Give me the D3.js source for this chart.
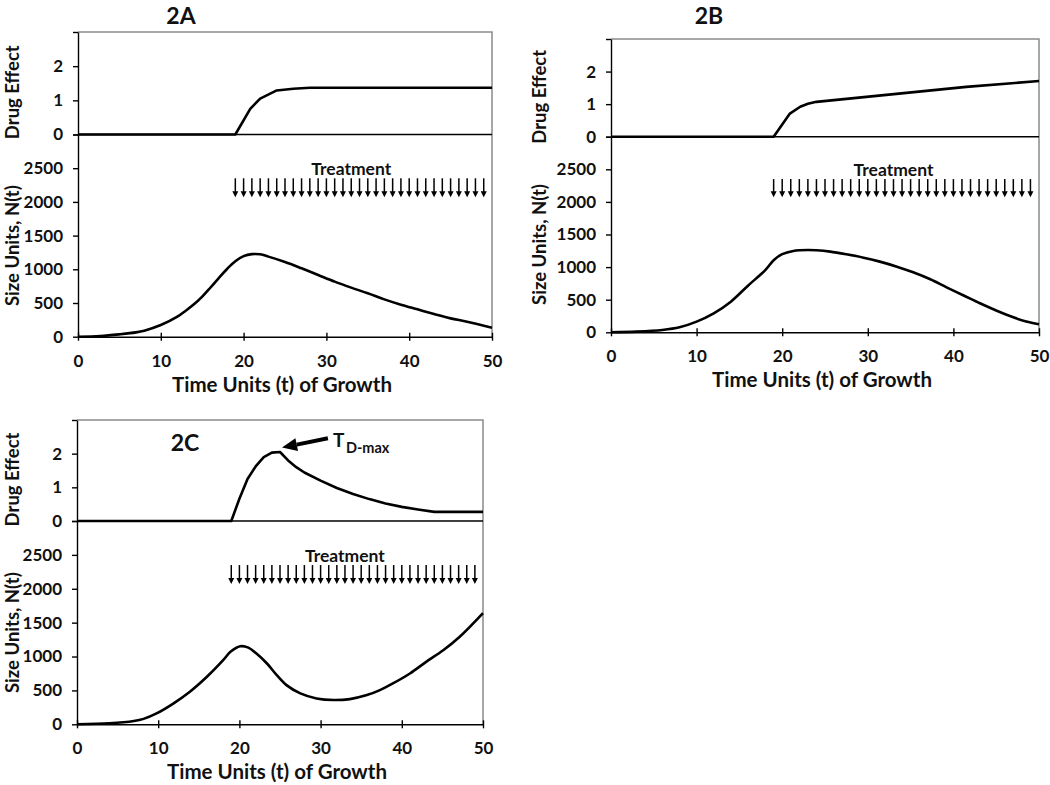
<!DOCTYPE html>
<html><head><meta charset="utf-8">
<script src="https://cdn.jsdelivr.net/npm/d3@7"></script>
<style>
body{margin:0;background:#fff}
svg text{font-family:Lato,'Open Sans',sans-serif;font-weight:700;fill:#111}
</style>
</head><body>
<svg id="chart" width="1050" height="785"></svg>
<script>
// ---------- data ----------
const timeTicks = [0, 10, 20, 30, 40, 50];
const drugTicks = [0, 1, 2, 3];
const sizeTicks = [0, 500, 1000, 1500, 2000, 2500, 3000];
const treatmentDays = [19,20,21,22,23,24,25,26,27,28,29,30,31,32,33,34,35,36,37,38,39,40,41,42,43,44,45,46,47,48,49];

// drug effect curves [t, effect]
const drugA = [[0,0],[19,0],[20.8,0.75],[22,1.05],[24,1.29],[26,1.34],[28,1.37],[50,1.37]];
const drugB = [[0,0],[19,0],[20.9,0.71],[22.1,0.92],[23,1.01],[24,1.07],[41.5,1.53],[50,1.71]];
const drugC = [[0,0],[19,0],[20,0.66],[21,1.25],[22,1.62],[23,1.9],[24,2.03],[25,2.05],[26,1.8],[27,1.6],[28,1.44],[30,1.2],[32,0.98],[34,0.8],[36,0.65],[38,0.52],[40,0.42],[42,0.34],[44,0.27],[50,0.27]];

// size curves [t, N(t)]
const sizeA = [[0,0],[2.7,10],[5,35],[7,64],[8,89],[10,173],[12,297],[13,385],[14,480],[15,595],[16,730],[17,870],[18,1005],[19,1120],[20,1195],[21,1225],[22,1222],[23,1188],[25,1109],[27,1015],[29,916],[31,817],[33,728],[35,644],[37,554],[39,475],[41,406],[43,337],[45,272],[47,223],[50,134]];
const sizeB = [[0,0],[3,10],[6,36],[8,77],[10,164],[12,291],[14,470],[16,715],[18,950],[19,1105],[20,1198],[21.3,1248],[23,1263],[24,1258],[25.6,1237],[27.5,1196],[29.5,1145],[31.4,1084],[33.4,1007],[35.3,920],[37.3,813],[39.2,690],[41.2,565],[43.1,445],[45,335],[47,230],[48.5,165],[50,123]];
const sizeC = [[0,0],[4,15],[7,49],[8.2,80],[9.8,160],[11.9,309],[13.9,480],[16,701],[18,946],[18.9,1069],[20.1,1152],[21.1,1132],[22.1,1044],[23.4,897],[24.6,725],[25.8,578],[27.5,456],[29.5,382],[31.6,358],[33.6,372],[35.7,431],[37.3,505],[38.9,603],[41,750],[43,922],[45.1,1093],[47.1,1289],[50,1642]];

// annotation values (data units)
const treatmentArrowTop = 2350, treatmentArrowTip = 2070;
const treatmentLabel = {t: 33, v: 2400, text: "Treatment"};
const tdmax = {tipT: 25.25, tipV: 2.18, tailT: 30.9, tailV: 2.46};

// ---------- layout ----------
const panels = [
  {name:"2A", left:78, right:492, top:32, mid:134.5, bottom:336.7, titleX:181, titleY:23.5, titleIn:false, drug:drugA, size:sizeA, labX:18.5},
  {name:"2B", left:611, right:1039, top:39, mid:136.7, bottom:332.3, titleX:709, titleY:24, titleIn:false, drug:drugB, size:sizeB, labX:546},
  {name:"2C", left:77, right:483, top:420, mid:521, bottom:724.3, titleX:185, titleY:451, titleIn:true, drug:drugC, size:sizeC, labX:18.5}
];

const svg = d3.select("#chart");
const FONT = "Lato,'Open Sans',sans-serif";

function styleAxis(g, fs){
  g.attr("font-size", fs).attr("font-family", FONT).attr("font-weight", 700);
  g.selectAll("path,line").attr("stroke", "#000").attr("stroke-width", 1.4);
  g.selectAll("text").attr("fill", "#111");
}

panels.forEach(p => {
  const g = svg.append("g");
  const x = d3.scaleLinear().domain([0, 50]).range([p.left, p.right]);
  const yD = d3.scaleLinear().domain([0, 3]).range([p.mid, p.top]);
  const yS = d3.scaleLinear().domain([0, 3000]).range([p.bottom, p.mid]);

  // gray plot frame (top + right)
  g.append("path")
    .attr("d", `M${p.left},${p.top}H${p.right}V${p.bottom}`)
    .attr("fill", "none").attr("stroke", "#8a8a8a").attr("stroke-width", 1.5);

  // top plot baseline
  g.append("line").attr("x1", p.left).attr("x2", p.right)
    .attr("y1", yD(0)).attr("y2", yD(0))
    .attr("stroke", "#000").attr("stroke-width", 1.4);

  // y axes
  const ad = g.append("g").attr("transform", `translate(${p.left},0)`)
    .call(d3.axisLeft(yD).tickValues(drugTicks).tickSize(5).tickSizeOuter(0).tickPadding(10)
      .tickFormat(d => d === 3 ? "" : d));
  styleAxis(ad, 17);
  const as = g.append("g").attr("transform", `translate(${p.left},0)`)
    .call(d3.axisLeft(yS).tickValues(sizeTicks).tickSize(5).tickSizeOuter(0).tickPadding(10)
      .tickFormat(d => d === 3000 ? "" : d));
  styleAxis(as, 17);

  // x axis
  const ax = g.append("g").attr("transform", `translate(0,${p.bottom})`)
    .call(d3.axisBottom(x).tickValues(timeTicks).tickSize(4).tickSizeOuter(0).tickPadding(14));
  ax.selectAll(".tick line").attr("y1", -4);
  styleAxis(ax, 17);

  // axis titles
  g.append("text").attr("x", (p.left + p.right) / 2 - 3).attr("y", p.bottom + 55)
    .attr("text-anchor", "middle").attr("font-size", 20.5).text("Time Units (t) of Growth");
  g.append("text").attr("transform", `translate(${p.labX},${(p.top + p.mid) / 2 + 9}) rotate(-90)`)
    .attr("text-anchor", "middle").attr("font-size", 18.5).text("Drug Effect");
  g.append("text").attr("transform", `translate(${p.labX},${(p.mid + p.bottom) / 2 + 10}) rotate(-90)`)
    .attr("text-anchor", "middle").attr("font-size", 18.5).text("Size Units, N(t)");

  // panel title
  g.append("text").attr("x", p.titleX).attr("y", p.titleY)
    .attr("text-anchor", "middle").attr("font-size", 23).text(p.name);

  // curves
  g.append("path").datum(p.drug)
    .attr("d", d3.line().x(d => x(d[0])).y(d => yD(d[1])).curve(d3.curveLinear))
    .attr("fill", "none").attr("stroke", "#000").attr("stroke-width", 2.6).attr("stroke-linejoin", "round");
  g.append("path").datum(p.size)
    .attr("d", d3.line().x(d => x(d[0])).y(d => yS(d[1])).curve(d3.curveCatmullRom.alpha(0.5)))
    .attr("fill", "none").attr("stroke", "#000").attr("stroke-width", 2.6).attr("stroke-linejoin", "round");

  // treatment arrows
  const arr = g.append("g");
  treatmentDays.forEach(t => {
    const cx = x(t), y0 = yS(treatmentArrowTop), y1 = yS(treatmentArrowTip);
    arr.append("line").attr("x1", cx).attr("x2", cx).attr("y1", y0).attr("y2", y1 - 5)
      .attr("stroke", "#000").attr("stroke-width", 1.5);
    arr.append("path").attr("d", `M${cx - 3},${y1 - 6}L${cx + 3},${y1 - 6}L${cx},${y1}Z`).attr("fill", "#000");
  });
  g.append("text").attr("x", x(treatmentLabel.t)).attr("y", yS(treatmentLabel.v))
    .attr("text-anchor", "middle").attr("font-size", 17.5).text(treatmentLabel.text);

  // T D-max annotation (panel C)
  if (p.name === "2C") {
    const tx = x(tdmax.tipT), ty = yD(tdmax.tipV), sx = x(tdmax.tailT), sy = yD(tdmax.tailV);
    const ang = Math.atan2(sy - ty, sx - tx);
    const L = 15, W = 6.5;
    const bx = tx + L * Math.cos(ang), by = ty + L * Math.sin(ang);
    g.append("line").attr("x1", sx).attr("y1", sy).attr("x2", bx).attr("y2", by)
      .attr("stroke", "#000").attr("stroke-width", 4);
    g.append("path").attr("d",
      `M${tx},${ty}L${bx - W * Math.sin(ang)},${by + W * Math.cos(ang)}L${bx + W * Math.sin(ang)},${by - W * Math.cos(ang)}Z`)
      .attr("fill", "#000");
    g.append("text").attr("x", sx + 5).attr("y", sy + 9).attr("font-size", 19).text("T");
    g.append("text").attr("x", sx + 18).attr("y", sy + 14.5).attr("font-size", 14.5).text("D-max");
  }
});
</script>
</body></html>
